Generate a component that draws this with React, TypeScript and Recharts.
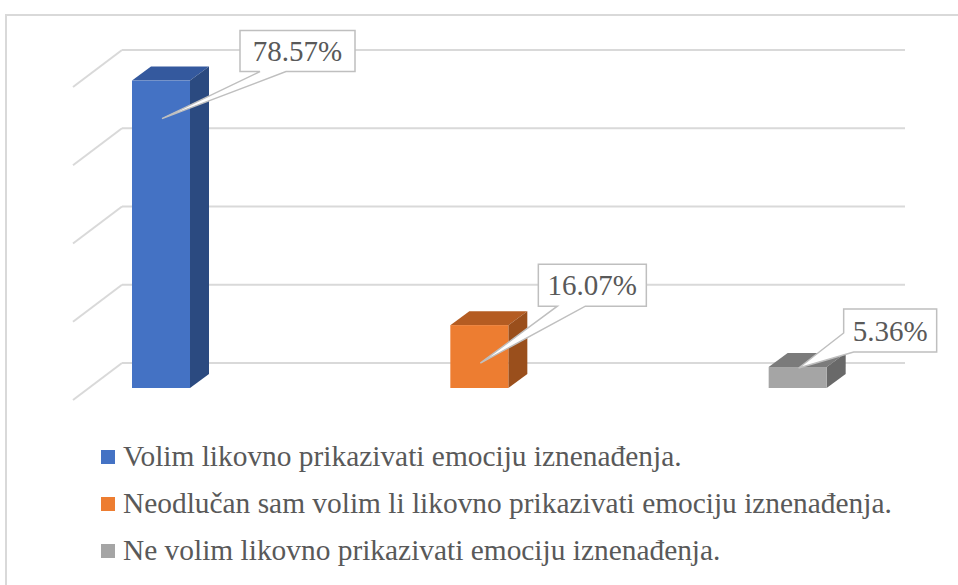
import React from "react";
import { BarChart, Bar, XAxis, YAxis, CartesianGrid, LabelList, Legend } from "recharts";

const categories = [
  "Volim likovno prikazivati emociju iznenađenja.",
  "Neodlučan sam volim li likovno prikazivati emociju iznenađenja.",
  "Ne volim likovno prikazivati emociju iznenađenja.",
];
const values = [78.57, 16.07, 5.36];
const yTicks = [0, 20, 40, 60, 80];

const data = categories.map((name, i) => ({ name, value: values[i] }));

const palette = [
  { front: "#4472C4", top: "#34599E", side: "#2B4A80" },
  { front: "#ED7D31", top: "#B45C22", side: "#9A4F1C" },
  { front: "#A5A5A5", top: "#7B7B7B", side: "#696969" },
];

// label callout layout (styling): box offset from anchor, box width, wedge points relative to box
const labelLayout = [
  { dx: 78, dy: -88, w: 115, h: 41, a: [20, 41], b: [46, 41] },
  { dx: 58, dy: -99, w: 108, h: 42, a: [19, 42], b: [47, 42] },
  { dx: 45, dy: -59, w: 93, h: 43, a: [0, 24], b: [10, 43] },
];

const DEPTH_X = 19;
const DEPTH_Y = 14;
const WALL_LEFT = 122;
const WALL_RIGHT = 905;
const WALL_DY = 25;
const FLOOR_FRONT_X = 73;
const FLOOR_FRONT_DY = 12;
const GRID = "#D9D9D9";
const TEXT = "#595959";
const FONT = "'Liberation Serif', 'Times New Roman', serif";

const Box3D = (props: any) => {
  const { x, y, width, height, index } = props;
  const c = palette[index % palette.length];
  const r = x + width;
  const b = y + height;
  return (
    <g>
      <polygon
        points={`${x},${y} ${x + DEPTH_X},${y - DEPTH_Y} ${r + DEPTH_X},${y - DEPTH_Y} ${r},${y}`}
        fill={c.top}
      />
      <polygon
        points={`${r},${y} ${r + DEPTH_X},${y - DEPTH_Y} ${r + DEPTH_X},${b - DEPTH_Y} ${r},${b}`}
        fill={c.side}
      />
      <rect x={x} y={y} width={width} height={height} fill={c.front} />
    </g>
  );
};

const Callout = (props: any) => {
  const { x, y, width, height, value, index } = props;
  const L = labelLayout[index];
  const ax = x + width / 2 + 1;
  const ay = y + Math.min(38, Math.max(0, height - 20));
  const bx = ax + L.dx;
  const by = ay + L.dy;
  const pts: number[][] = [
    [bx, by],
    [bx + L.w, by],
    [bx + L.w, by + L.h],
    [bx + L.b[0], by + L.b[1]],
    [ax, ay],
    [bx + L.a[0], by + L.a[1]],
  ];
  if (L.a[1] >= L.h) pts.push([bx, by + L.h]);
  const d = "M" + pts.map((p) => `${p[0]},${p[1]}`).join(" L") + " Z";
  return (
    <g>
      <path d={d} fill="#FFFFFF" stroke="#BFBFBF" strokeWidth={1.5} />
      <text
        x={bx + L.w / 2}
        y={by + L.h / 2 + 10}
        textAnchor="middle"
        fontFamily={FONT}
        fontSize={29}
        fill={TEXT}
      >
        {`${Number(value).toFixed(2)}%`}
      </text>
    </g>
  );
};

const gridLine = (p: any) => {
  const yb = p.y1 - WALL_DY;
  return (
    <g key={p.key ?? `g-${p.y1}`}>
      <line x1={WALL_LEFT} y1={yb} x2={WALL_RIGHT} y2={yb} stroke={GRID} strokeWidth={2} />
      <line
        x1={FLOOR_FRONT_X}
        y1={p.y1 + FLOOR_FRONT_DY}
        x2={WALL_LEFT}
        y2={yb}
        stroke={GRID}
        strokeWidth={2}
      />
    </g>
  );
};

const LegendContent = () => (
  <div style={{ fontFamily: FONT, fontSize: 29.4, color: TEXT, textAlign: "left" }}>
    {categories.map((c, i) => (
      <div key={c} style={{ display: "flex", alignItems: "center", height: 47, whiteSpace: "nowrap" }}>
        <span
          style={{
            display: "inline-block",
            width: 14,
            height: 14,
            background: palette[i].front,
            marginRight: 8,
          }}
        />
        <span>{c}</span>
      </div>
    ))}
  </div>
);

export default function App() {
  return (
    <div style={{ position: "fixed", left: 0, top: 0, width: 958, height: 585, background: "#fff", overflow: "hidden" }}>
      <div
        style={{
          position: "absolute",
          left: 5,
          top: 14,
          width: 1200,
          height: 1200,
          border: "2px solid #D9D9D9",
          boxSizing: "border-box",
        }}
      />
      <div style={{ position: "absolute", left: 0, top: 0 }}>
        <BarChart
          width={958}
          height={585}
          data={data}
          margin={{ top: 75, right: 1, bottom: 197, left: 2 }}
        >
          <CartesianGrid vertical={false} horizontal={gridLine} />
          <XAxis dataKey="name" hide padding={{ left: 0, right: 0 }} />
          <YAxis hide domain={[0, 80]} ticks={yTicks} />
          <Bar dataKey="value" barSize={58} shape={Box3D} isAnimationActive={false}>
            <LabelList dataKey="value" content={Callout} />
          </Bar>
          <Legend
            layout="horizontal"
            verticalAlign="middle"
            align="center"
            content={LegendContent}
            wrapperStyle={{ position: "absolute", left: 101, top: 433, width: 850 }}
          />
        </BarChart>
      </div>
    </div>
  );
}
